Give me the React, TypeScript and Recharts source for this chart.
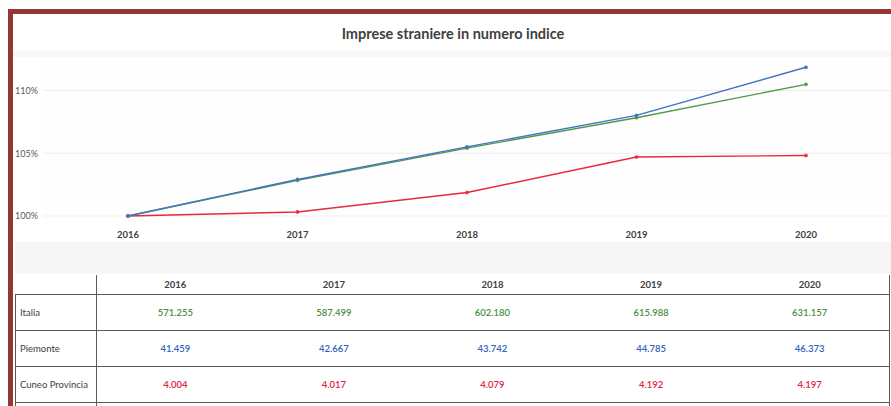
import React from 'react';
import { LineChart, Line, XAxis, YAxis, CartesianGrid } from 'recharts';

// ---- data ----
const years = ['2016', '2017', '2018', '2019', '2020'];
const italiaIndex = [100, 102.84, 105.41, 107.83, 110.49];
const piemonteIndex = [100, 102.91, 105.51, 108.02, 111.85];
const cuneoIndex = [100, 100.32, 101.87, 104.7, 104.82];
const yTicks = [100, 105, 110];

const rowLabels = ['Italia', 'Piemonte', 'Cuneo Provincia'];
const italiaValues = ['571.255', '587.499', '602.180', '615.988', '631.157'];
const piemonteValues = ['41.459', '42.667', '43.742', '44.785', '46.373'];
const cuneoValues = ['4.004', '4.017', '4.079', '4.192', '4.197'];

const title = 'Imprese straniere in numero indice';

const GREEN = '#4f9a45';
const BLUE = '#4472c4';
const RED = '#e8283c';
const GREEN_T = '#4a8f3f';
const BLUE_T = '#2f5fbf';
const RED_T = '#e0203c';

const chartData = years.map((y, i) => ({
  year: y,
  italia: italiaIndex[i],
  piemonte: piemonteIndex[i],
  cuneo: cuneoIndex[i],
}));

const tableRows = [
  { label: rowLabels[0], values: italiaValues, color: GREEN_T },
  { label: rowLabels[1], values: piemonteValues, color: BLUE_T },
  { label: rowLabels[2], values: cuneoValues, color: RED_T },
];

const FONT = 'Lato, "Open Sans", sans-serif';

const XTick = (props: any) => {
  const { x, payload } = props;
  return (
    <text x={x} y={182} textAnchor="middle" dominantBaseline="central"
      fontFamily={FONT} fontSize={9.5} fontWeight={700} fill="#404040">
      {payload.value}
    </text>
  );
};

const YTick = (props: any) => {
  const { y, payload } = props;
  return (
    <text x={2} y={y} textAnchor="start" dominantBaseline="central"
      fontFamily={FONT} fontSize={9} fill="#595959">
      {payload.value}%
    </text>
  );
};

const TABLE_LEFT = 15;
const TABLE_SEP = 96;
const TABLE_RIGHT = 889;
const HEADER_TOP = 275;
const HEADER_BOTTOM = 294;
const ROW_H = 36;
const COL_W = (TABLE_RIGHT - TABLE_SEP) / years.length;
const LINE = '#5a5a5a';

export default function App() {
  return (
    <div style={{ position: 'fixed', left: 0, top: 0, width: 891, height: 406, overflow: 'hidden', background: '#ffffff', fontFamily: FONT }}>
      {/* frame */}
      <div style={{ position: 'absolute', left: 8, top: 9, width: 900, height: 420, borderTop: '5px solid #943634', borderLeft: '5px solid #943634', boxSizing: 'border-box' }} />
      {/* title */}
      <div style={{ position: 'absolute', left: 13, top: 14, width: 880, height: 38, display: 'flex', alignItems: 'center', justifyContent: 'center', fontSize: 14.5, fontWeight: 700, color: '#404040' }}>
        {title}
      </div>
      {/* band under title */}
      <div style={{ position: 'absolute', left: 13, top: 51, width: 878, height: 6, background: '#f7f7f7' }} />
      {/* gray band between chart and table */}
      <div style={{ position: 'absolute', left: 15, top: 242, width: 876, height: 32, background: '#f6f6f6' }} />
      {/* chart */}
      <div style={{ position: 'absolute', left: 13, top: 52 }}>
        <LineChart width={878} height={188} data={chartData} margin={{ top: 5, right: 0, left: 0, bottom: 0 }}>
          <CartesianGrid vertical={false} stroke="#eeeeee" fill="#fefefe" horizontalValues={yTicks} />
          <XAxis dataKey="year" axisLine={false} tickLine={false} height={15} padding={{ left: 85, right: 85 }} tick={<XTick />} interval={0} />
          <YAxis type="number" domain={[99.28, 112.67]} ticks={yTicks} axisLine={false} tickLine={false} width={30} tick={<YTick />} allowDataOverflow />
          <Line dataKey="cuneo" stroke={RED} strokeWidth={1.4} dot={{ r: 1.6, fill: RED, stroke: RED, strokeWidth: 0.5 }} isAnimationActive={false} />
          <Line dataKey="italia" stroke={GREEN} strokeWidth={1.4} dot={{ r: 1.6, fill: GREEN, stroke: GREEN, strokeWidth: 0.5 }} isAnimationActive={false} />
          <Line dataKey="piemonte" stroke={BLUE} strokeWidth={1.4} dot={{ r: 1.6, fill: BLUE, stroke: BLUE, strokeWidth: 0.5 }} isAnimationActive={false} />
        </LineChart>
      </div>
      {/* table lines */}
      <div style={{ position: 'absolute', left: TABLE_SEP, top: HEADER_TOP, width: 1, height: 140, background: LINE }} />
      <div style={{ position: 'absolute', left: TABLE_RIGHT, top: HEADER_TOP, width: 1, height: 140, background: LINE }} />
      <div style={{ position: 'absolute', left: TABLE_LEFT, top: HEADER_BOTTOM, width: 1, height: 120, background: LINE }} />
      {[0, 1, 2, 3].map((k) => (
        <div key={'h' + k} style={{ position: 'absolute', left: TABLE_LEFT, top: HEADER_BOTTOM + k * ROW_H, width: TABLE_RIGHT - TABLE_LEFT + 1, height: 1, background: LINE }} />
      ))}
      {/* header */}
      {years.map((y, i) => (
        <div key={'y' + y} style={{ position: 'absolute', left: TABLE_SEP + i * COL_W, top: HEADER_TOP, width: COL_W, height: HEADER_BOTTOM - HEADER_TOP, display: 'flex', alignItems: 'center', justifyContent: 'center', fontSize: 9.5, fontWeight: 700, color: '#404040' }}>
          {y}
        </div>
      ))}
      {/* rows */}
      {tableRows.map((r, ri) => (
        <React.Fragment key={r.label}>
          <div style={{ position: 'absolute', left: 20, top: HEADER_BOTTOM + ri * ROW_H, height: ROW_H, display: 'flex', alignItems: 'center', fontSize: 9.5, color: '#404040' }}>
            {r.label}
          </div>
          {r.values.map((v, ci) => (
            <div key={r.label + ci} style={{ position: 'absolute', left: TABLE_SEP + ci * COL_W, top: HEADER_BOTTOM + ri * ROW_H, width: COL_W, height: ROW_H, display: 'flex', alignItems: 'center', justifyContent: 'center', fontSize: 9.5, fontWeight: 600, color: r.color }}>
              {v}
            </div>
          ))}
        </React.Fragment>
      ))}
    </div>
  );
}
